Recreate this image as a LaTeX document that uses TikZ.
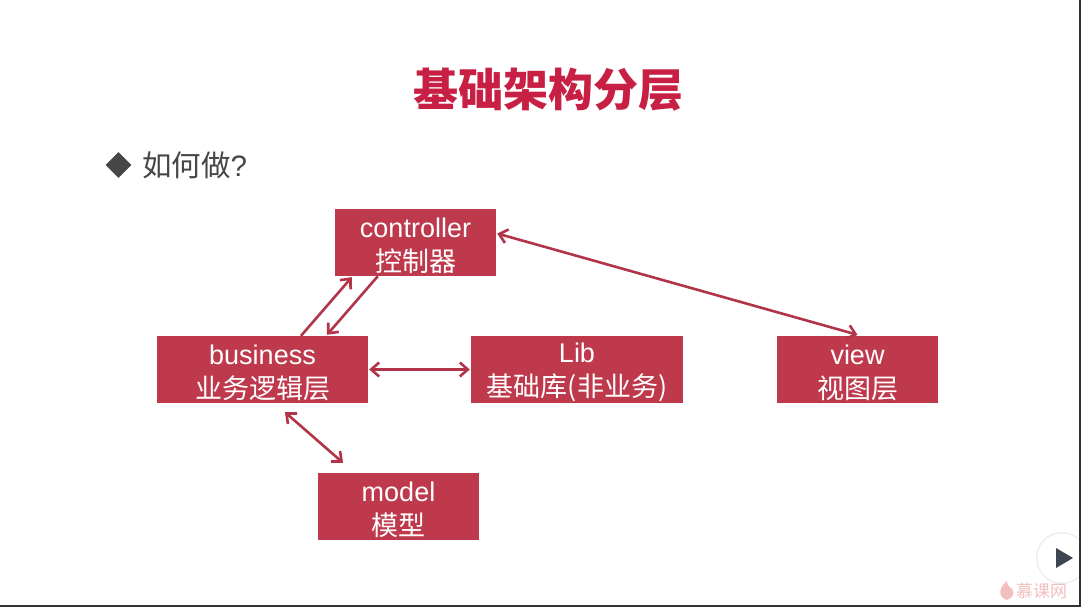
\documentclass[tikz,border=0pt]{standalone}
\usepackage{fontspec}
\setmainfont{Noto Sans CJK SC}
\newfontfamily\latinf{Liberation Sans}
\usetikzlibrary{arrows.meta,shapes.geometric}
\definecolor{brandred}{RGB}{190,57,76}
\definecolor{arrowred}{RGB}{178,52,72}
\definecolor{titlered}{RGB}{200,32,68}
\definecolor{txt}{RGB}{70,70,70}
\definecolor{wmark}{RGB}{243,190,190}
\definecolor{playgrey}{RGB}{62,70,82}
\tikzset{
  px/.style={x=1pt,y=-1pt},
  box/.style={fill=brandred,text=white,inner sep=0pt,align=center,font=\fontsize{27}{34}\selectfont},
  link/.style={draw=arrowred,line width=2.6pt,{Straight Barb[length=8pt,width=14pt]}-{Straight Barb[length=8pt,width=14pt]}},
  oneway/.style={draw=arrowred,line width=2.6pt,-{Straight Barb[length=8pt,width=14pt]}}
}
\newcommand{\lat}[1]{{\latinf #1}}
\newcommand{\boxtext}[2]{\rule{0pt}{26pt}\lat{#1}\\#2}
\begin{document}
\begin{tikzpicture}[px]
\useasboundingbox (0,0) rectangle (1081,607);
\fill[white] (0,0) rectangle (1081,607);
\fill[black!80] (0,604.5) rectangle (1081,607);
\fill[black!80] (1079,0) rectangle (1081,607);
\node[text=titlered,font=\bfseries\fontsize{45}{50}\selectfont] (title) at (548,90) {基础架构分层};
\node[diamond,fill=txt,inner sep=0pt,minimum width=26pt,minimum height=26pt] (bullet) at (118.5,165) {};
\node[text=txt,font=\fontsize{29.5}{34}\selectfont,anchor=west,inner sep=0pt] (q) at (142,165) {如何做\lat{?}};
\node[box,minimum width=161pt,minimum height=67pt] (ctrl) at (415.5,242.5) {\boxtext{controller}{控制器}};
\node[box,minimum width=211pt,minimum height=67pt] (biz) at (262.5,369.5) {\boxtext{business}{业务逻辑层}};
\node[box,minimum width=212pt,minimum height=67pt] (lib) at (577,369.5) {\boxtext{Lib}{基础库(非业务)}};
\node[box,minimum width=161pt,minimum height=67pt] (view) at (857.5,369.5) {\boxtext{view}{视图层}};
\node[box,minimum width=161pt,minimum height=67pt] (model) at (398.5,506.5) {\boxtext{model}{模型}};
\draw[oneway] ([xshift=38.5pt]biz.north) -- ([xshift=17pt,yshift=-1pt]ctrl.south west);
\draw[oneway] ([xshift=43pt,yshift=0pt]ctrl.south west) -- ([xshift=64.5pt,yshift=1pt]biz.north);
\draw[link] ([xshift=1pt]biz.east) -- ([xshift=-1pt]lib.west);
\draw[link] ([xshift=22.5pt,yshift=-9pt]biz.south) -- ([xshift=-55.5pt,yshift=10pt]model.north);
\draw[link] ([xshift=1pt,yshift=9pt]ctrl.east) -- ([yshift=1pt]view.north);
% play button
\fill[black!7] (1062,558) circle (26pt);
\fill[white] (1062,558) circle (24.5pt);
\fill[black!80] (1079,525) rectangle (1081,590);
\fill[playgrey] (1056,548) -- (1073,558) -- (1056,568) -- cycle;
% watermark
\fill[wmark] (1007,600) .. controls (998,597) and (998,588) .. (1007,581) .. controls (1007,586) and (1010,587) .. (1012,589) .. controls (1015,593) and (1013,598) .. (1007,600) -- cycle;
\node[text=wmark,font=\fontsize{17}{20}\selectfont,anchor=west,inner sep=0pt] (wm) at (1016,591) {慕课网};
\end{tikzpicture}
\end{document}
